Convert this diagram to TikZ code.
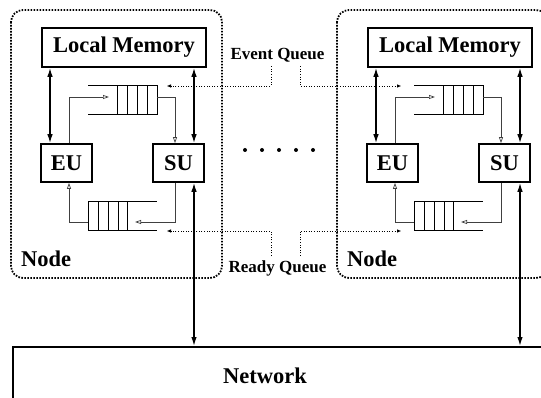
\documentclass[tikz,border=0pt]{standalone}
\usepackage{fontspec}
\setmainfont{Liberation Serif}
\usetikzlibrary{arrows.meta}

\begin{document}
\begin{tikzpicture}[x=1pt,y=-1pt,
    box/.style={draw, line width=1.6pt, inner sep=0pt, font=\bfseries\fontsize{22.5}{26}\selectfont},
    lbl/.style={inner sep=0pt, font=\bfseries\fontsize{22.5}{26}\selectfont},
    qlbl/.style={inner sep=4pt, font=\bfseries\fontsize{17}{20}\selectfont},
    bus/.style={line width=1.4pt, {Latex[length=9pt,width=5.5pt]}-{Latex[length=9pt,width=5.5pt]}},
    flow/.style={line width=0.7pt, black!75, -{Triangle[open,length=6pt,width=4pt]}},
    hint/.style={line width=0.8pt, dash pattern=on 1pt off 1.6pt, -{Triangle[open,length=4pt,width=3pt]}},
    nodebox/.style={line width=1.8pt, dash pattern=on 1.6pt off 1.4pt, rounded corners=12pt},
    queue/.style={line width=1pt}]
  \clip (0,0) rectangle (541,398);

  % network
  \node[draw, line width=1.6pt, minimum width=560pt, minimum height=70pt, anchor=north west] (net) at (12,346) {};
  \node[lbl, anchor=base] (nettext) at (265,383) {Network};

  % the two nodes
  \foreach \u/\dx in {A/0,B/326}{
    \begin{scope}[xshift=\dx pt]
      \draw[nodebox] (11,10) rectangle (222,278);
      \node[lbl, anchor=base west] (nd\u) at (21,267) {Node};

      \node[box, minimum width=164pt, minimum height=39pt] (mem\u) at (124,47.5) {Local Memory};
      \node[box, minimum width=51pt, minimum height=38pt] (eu\u) at (66.5,163) {EU};
      \node[box, minimum width=51pt, minimum height=38pt] (su\u) at (178.5,163) {SU};

      % event queue
      \draw[queue] (88,86) -- (157,86) (88,115) -- (157,115);
      \draw[queue] (117,86) rectangle (157,115);
      \foreach \x in {127,137,147} \draw[queue] (\x,86) -- (\x,115);
      \coordinate (inq\u) at (109,97);
      \coordinate (outq\u) at (157,97);

      % ready queue
      \draw[queue] (88,202) -- (157,202) (88,231) -- (157,231);
      \draw[queue] (88,202) rectangle (127,231);
      \foreach \x in {98,108,118} \draw[queue] (\x,202) -- (\x,231);
      \coordinate (inr\u) at (135,222);
      \coordinate (outr\u) at (88,222);

      \coordinate (e\u) at ([xshift=-16.5pt]eu\u.north);
      \coordinate (s\u) at ([xshift=15.5pt]su\u.north);
      \coordinate (b\u) at ([xshift=15.5pt]su\u.south);
    \end{scope}

    \draw[bus] (e\u) -- (e\u |- mem\u.south);
    \draw[bus] (s\u) -- (s\u |- mem\u.south);
    \draw[bus] (b\u) -- (b\u |- net.north);

    \draw[flow] ([xshift=2.5pt]eu\u.north) |- (inq\u);
    \draw[flow] (outq\u) -| ([xshift=-3.5pt]su\u.north);
    \draw[flow] ([xshift=-3.5pt]su\u.south) |- (inr\u);
    \draw[flow] (outr\u) -| ([xshift=2.5pt]eu\u.south);
  }

  % queue labels
  \node[qlbl] (evq) at (277.5,55) {Event Queue};
  \node[qlbl] (rdq) at (277.5,268) {Ready Queue};
  \coordinate (evA) at (167,86);
  \coordinate (evB) at (401,86);
  \coordinate (rdA) at (167,231);
  \coordinate (rdB) at (401,231);
  \draw[hint] ([xshift=-6.5pt]evq.south) |- (evA);
  \draw[hint] ([xshift=22.5pt]evq.south) |- (evB);
  \draw[hint] ([xshift=-6.5pt]rdq.north) |- (rdA);
  \draw[hint] ([xshift=22.5pt]rdq.north) |- (rdB);

  % dots between the nodes
  \foreach \x in {245,262,...,313} \fill (\x,150) circle (2pt);
\end{tikzpicture}
\end{document}
